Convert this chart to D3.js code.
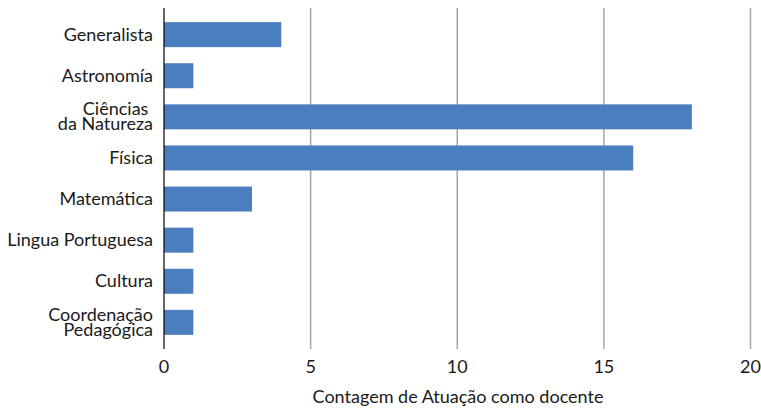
<!DOCTYPE html>
<html>
<head>
<meta charset="utf-8">
<script src="https://cdn.jsdelivr.net/npm/d3@7"></script>
<style>
  html, body { margin: 0; padding: 0; background: #fff; }
  svg { display: block; font-family: "Lato", "Open Sans", sans-serif; }
</style>
</head>
<body>
<svg id="chart" width="761" height="409"></svg>
<script>
// Categories (each entry is a list of label lines) and counts
const categories = [
  ["Generalista"],
  ["Astronomía"],
  ["Ciências ", "da Natureza"],
  ["Física"],
  ["Matemática"],
  ["Lingua Portuguesa"],
  ["Cultura"],
  ["Coordenação", "Pedagógica"]
];
const values = [4, 1, 18, 16, 3, 1, 1, 1];
const xTicks = [0, 5, 10, 15, 20];
const xTitle = "Contagem de Atuação como docente";

const svg = d3.select("#chart");
const plotLeft = 164, plotRight = 750.5, plotTop = 8, plotBottom = 349;
const fontSize = 18;

const x = d3.scaleLinear().domain([0, 20]).range([plotLeft, plotRight]);
const y = d3.scaleBand()
  .domain(d3.range(categories.length))
  .range([plotTop, plotBottom])
  .paddingInner(0.392)
  .paddingOuter(0.344);

// vertical gridlines
svg.append("g")
  .selectAll("line")
  .data(xTicks.filter(d => d > 0))
  .join("line")
  .attr("x1", d => x(d)).attr("x2", d => x(d))
  .attr("y1", plotTop).attr("y2", plotBottom)
  .attr("stroke", "#a6a6a6")
  .attr("stroke-width", 1.5);

// bars
svg.append("g")
  .selectAll("rect")
  .data(values)
  .join("rect")
  .attr("x", x(0))
  .attr("y", (d, i) => y(i))
  .attr("width", d => x(d) - x(0))
  .attr("height", y.bandwidth())
  .attr("fill", "#4a7ebf");

// zero axis line
svg.append("line")
  .attr("x1", x(0)).attr("x2", x(0))
  .attr("y1", plotTop).attr("y2", plotBottom)
  .attr("stroke", "#000")
  .attr("stroke-width", 1.2);

// category labels
const lineH = 15;
const labels = svg.append("g")
  .attr("font-size", fontSize)
  .attr("fill", "#1a1a1a")
  .attr("text-anchor", "end");
categories.forEach((lines, i) => {
  const cy = y(i) + y.bandwidth() / 2;
  const firstBase = lines.length === 1 ? cy + 6 : cy - 1.5;
  const t = labels.append("text")
    .attr("y", firstBase)
    .style("white-space", "pre");
  lines.forEach((ln, j) => {
    t.append("tspan")
      .attr("x", plotLeft - 11)
      .attr("dy", j === 0 ? 0 : lineH)
      .text(ln);
  });
});

// x tick labels
svg.append("g")
  .attr("font-size", fontSize)
  .attr("fill", "#1a1a1a")
  .attr("text-anchor", "middle")
  .selectAll("text")
  .data(xTicks)
  .join("text")
  .attr("x", d => x(d))
  .attr("y", 373)
  .text(d => d);

// axis title
svg.append("text")
  .attr("x", 458)
  .attr("y", 403)
  .attr("text-anchor", "middle")
  .attr("font-size", fontSize)
  .attr("fill", "#1a1a1a")
  .text(xTitle);
</script>
</body>
</html>
